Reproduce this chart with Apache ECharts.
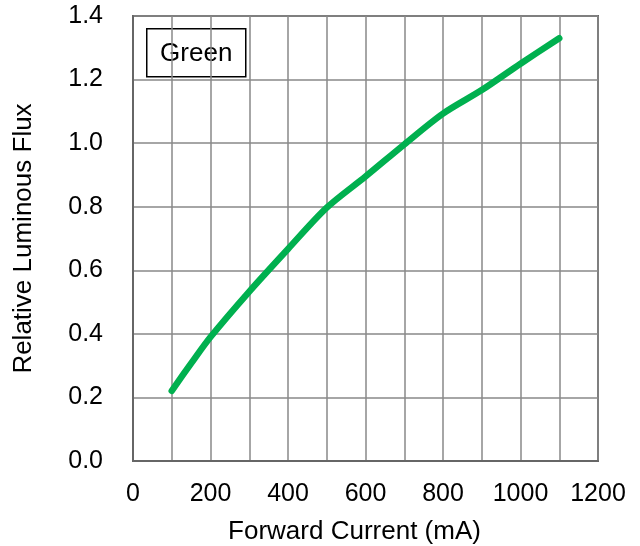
<!DOCTYPE html>
<html><head><meta charset="utf-8">
<script src="https://cdn.jsdelivr.net/npm/echarts@6/dist/echarts.min.js"></script>
<style>html,body{margin:0;padding:0;background:#fff}#c{width:640px;height:546px}</style>
</head><body><div id="c"></div>
<script>
const currents = [100, 150, 200, 300, 400, 500, 600, 700, 800, 900, 1000, 1100];
const fluxGreen = [0.221, 0.307, 0.39, 0.533, 0.667, 0.797, 0.895, 0.996, 1.093, 1.167, 1.25, 1.33];
const seriesName = 'Green';
const xTitle = 'Forward Current (mA)';
const yTitle = 'Relative Luminous Flux';

const chart = echarts.init(document.getElementById('c'), null, {renderer: 'canvas'});
const font = 'Liberation Sans, Arial, sans-serif';
chart.setOption({
  animation: false,
  backgroundColor: '#fff',
  grid: {left: 133, right: 42, top: 16, bottom: 85, show: true, borderColor: '#666', borderWidth: 2,
    containLabel: false, outerBoundsMode: 'none'},
  xAxis: {
    type: 'value', min: 0, max: 1200, interval: 100,
    name: xTitle, nameLocation: 'middle', nameGap: 58,
    nameTextStyle: {fontFamily: font, fontSize: 26, color: '#000', padding: [0, 22, 0, 0]},
    axisLine: {show: true, lineStyle: {color: '#666', width: 2}},
    axisTick: {show: false},
    axisLabel: {fontFamily: font, fontSize: 25, color: '#000', margin: 21,
      formatter: v => (v % 200 === 0 ? String(v) : '')},
    splitLine: {show: true, lineStyle: {color: '#888', width: 1.5}}
  },
  yAxis: {
    type: 'value', min: 0, max: 1.4, interval: 0.2,
    name: yTitle, nameLocation: 'middle', nameGap: 96,
    nameTextStyle: {fontFamily: font, fontSize: 26, color: '#000'},
    axisLine: {show: true, lineStyle: {color: '#666', width: 2}},
    axisTick: {show: false},
    axisLabel: {fontFamily: font, fontSize: 25, color: '#000', margin: 30,
      formatter: v => v.toFixed(1)},
    splitLine: {show: true, lineStyle: {color: '#888', width: 1.5}}
  },
  graphic: [{
    type: 'group', left: 146, top: 28,
    children: [
      {type: 'rect', shape: {x: 0, y: 0, width: 99, height: 48}, style: {fill: '#fff', stroke: '#000', lineWidth: 1.5}},
      {type: 'text', style: {x: 49.5, y: 25, text: seriesName, font: '26px ' + font, fill: '#000', align: 'center', verticalAlign: 'middle'}}
    ]
  }],
  series: [{
    name: seriesName, type: 'line', smooth: 0.3, showSymbol: false,
    data: currents.map((c, i) => [c, fluxGreen[i]]),
    lineStyle: {color: '#00b04f', width: 6.5, cap: 'round', join: 'round'}
  }]
});
</script></body></html>
